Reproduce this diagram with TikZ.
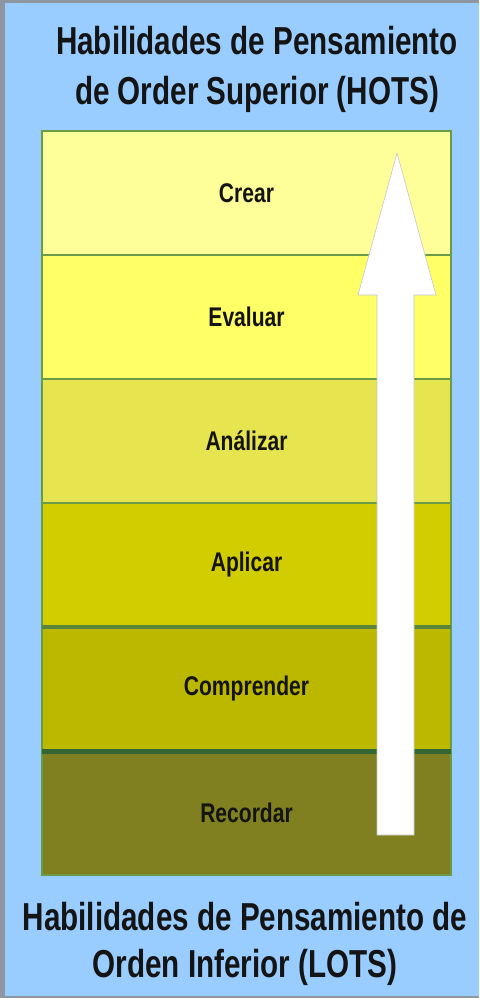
\documentclass[tikz,border=0pt]{standalone}
\usepackage{fontspec}
\newfontfamily\narrowsans[FakeStretch=0.78]{Liberation Sans}
\newfontfamily\headsans[FakeStretch=0.76]{Liberation Sans}
\usetikzlibrary{positioning}

\definecolor{skyblue}{HTML}{99CCFF}
\definecolor{framegray}{HTML}{8E96A0}
\definecolor{levelA}{HTML}{FFFF99}
\definecolor{levelB}{HTML}{FFFF66}
\definecolor{levelC}{HTML}{E6E44F}
\definecolor{levelD}{HTML}{D2CD00}
\definecolor{levelE}{HTML}{BCB800}
\definecolor{levelF}{HTML}{808020}
\definecolor{edgegreen}{HTML}{6B9B45}
\definecolor{darkgreen}{HTML}{336633}
\definecolor{inkblack}{HTML}{141414}

\tikzset{
    level/.style={draw=edgegreen, line width=1.5pt, minimum width=409pt, minimum height=124pt,
        inner sep=0pt, outer sep=0pt, text=inkblack,
        font=\narrowsans\bfseries\fontsize{27}{30}\selectfont},
    heading/.style={align=center, text=inkblack, inner sep=0pt}
}

\begin{document}
\begin{tikzpicture}[x=1pt,y=-1pt]
    \useasboundingbox (0,0) rectangle (479,998);
    \fill[framegray] (0,0) rectangle (479,998);
    \fill[skyblue] (5,3) rectangle (479,996);

    % levels, from top to bottom
    \node[level, fill=levelA] (crear) at (246.5,193) {Crear};
    \node[level, fill=levelB, below=0pt of crear] (evaluar) {Evaluar};
    \node[level, fill=levelC, below=0pt of evaluar] (analizar) {Análizar};
    \node[level, fill=levelD, below=0pt of analizar] (aplicar) {Aplicar};
    \node[level, fill=levelE, below=0pt of aplicar] (comprender) {Comprender};
    \node[level, fill=levelF, below=0pt of comprender] (recordar) {Recordar};
    \draw[edgegreen!85!black, line width=3.5pt] (aplicar.south west) -- (aplicar.south east);
    \draw[darkgreen, line width=5pt] (comprender.south west) -- (comprender.south east);

    % big arrow
    \draw[fill=white, draw=gray!45, line width=0.6pt]
        (377,835) -- (377,295) -- (358,295) -- (397,153) -- (436,295) -- (414,295) -- (414,835) -- cycle;

    \node[heading, font=\headsans\bfseries\fontsize{39}{50}\selectfont] (hots) at (257,69)
        {Habilidades de Pensamiento\\de Order Superior (HOTS)};
    \node[heading, font=\headsans\bfseries\fontsize{39}{47}\selectfont] (lots) at (245,944)
        {Habilidades de Pensamiento de\\Orden Inferior (LOTS)};
\end{tikzpicture}
\end{document}
